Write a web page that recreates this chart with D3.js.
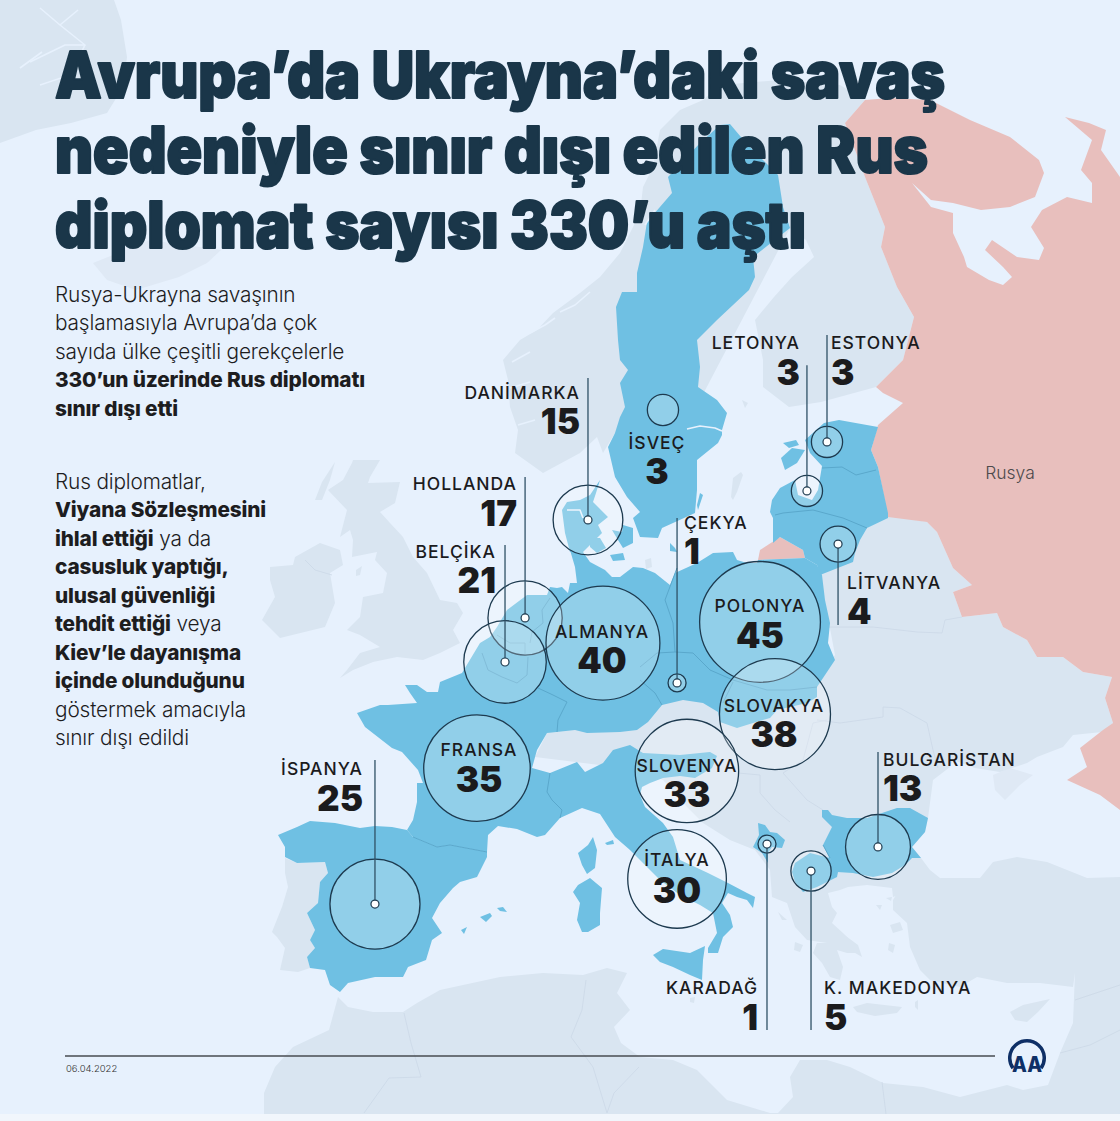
<!DOCTYPE html>
<html>
<head>
<meta charset="utf-8">
<title>Avrupa'da sınır dışı edilen Rus diplomatlar</title>
<style>
html, body { margin: 0; padding: 0; background: #f1f6fc; }
svg { display: block; }
.title { font-family: Inter, sans-serif; font-weight: 900; font-size: 65px; fill: #1a3649; stroke: #1a3649; stroke-width: 2.2px; stroke-linejoin: round; }
.body { font-family: Inter, sans-serif; font-size: 20.8px; font-weight: 300; fill: #1d1d1f; letter-spacing: -0.15px; }
.body .b { font-weight: 800; }
.name { font-family: Inter, sans-serif; font-size: 17.5px; font-weight: 500; letter-spacing: 1px; fill: #1b1b1d; }
.num { font-family: Inter, sans-serif; font-size: 35px; font-weight: 900; fill: #1b1b1d; }
</style>
</head>
<body>
<svg id="chart" width="1120" height="1121"></svg>
<script src="https://cdn.jsdelivr.net/npm/d3@7"></script>
<script>
// counts read from the infographic
var countries = ["DANİMARKA", "İSVEÇ", "LETONYA", "ESTONYA", "HOLLANDA", "BELÇİKA", "ÇEKYA", "LİTVANYA", "POLONYA", "ALMANYA", "SLOVAKYA", "SLOVENYA", "FRANSA", "İTALYA", "İSPANYA", "BULGARİSTAN", "KARADAĞ", "K. MAKEDONYA"];
var diplomats = [15, 3, 3, 3, 17, 21, 1, 4, 45, 40, 38, 33, 35, 30, 25, 13, 1, 5];
var anchorLon = [8.94, 13.35, 21.82, 23.0, 5.24, 4.06, 14.18, 23.65, 19.06, 9.82, 19.94, 14.76, 2.41, 14.18, -3.59, 26.0, 19.47, 22.06];
var anchorLat = [53.94, 58.14, 55.05, 56.92, 50.2, 48.52, 47.72, 53.02, 50.05, 49.24, 46.53, 44.36, 44.47, 40.24, 39.28, 41.46, 41.57, 40.54];
// far end of the leader line, null when the label sits inside the circle
var leaderLat = [59.36, null, 59.85, 61.0, 55.58, 52.98, 54.02, 49.93, null, null, null, null, null, null, 44.78, 45.08, 34.47, 34.47];

var titleLines = ["Avrupa’da Ukrayna’daki savaş", "nedeniyle sınır dışı edilen Rus", "diplomat sayısı 330’u aştı"];
var titleWidths = [890, 873, 751];
var introLines = [[["Rusya-Ukrayna savaşının", 0]], [["başlamasıyla Avrupa’da çok", 0]], [["sayıda ülke çeşitli gerekçelerle", 0]], [["330’un üzerinde Rus diplomatı", 1]], [["sınır dışı etti", 1]]];
var reasonLines = [[["Rus diplomatlar,", 0]], [["Viyana Sözleşmesini", 1]], [["ihlal ettiği", 1], [" ya da", 0]], [["casusluk yaptığı,", 1]], [["ulusal güvenliği", 1]], [["tehdit ettiği", 1], [" veya", 0]], [["Kiev’le dayanışma", 1]], [["içinde olunduğunu", 1]], [["göstermek amacıyla", 0]], [["sınır dışı edildi", 0]]];

// label layout: x, name baseline, number baseline, anchor
var labelLayout = {
  "DANİMARKA": [580, 399, 434, "end"], "İSVEÇ": [657, 449, 484, "middle"], "LETONYA": [800, 349, 385, "end"],
  "ESTONYA": [831, 349, 385, "start"], "HOLLANDA": [517, 490, 526, "end"], "BELÇİKA": [496, 558, 593, "end"],
  "ÇEKYA": [684, 529, 564, "start"], "LİTVANYA": [847, 589, 624, "start"], "POLONYA": [760, 612, 648, "middle"],
  "ALMANYA": [602, 638, 673, "middle"], "SLOVAKYA": [774, 712, 747, "middle"], "SLOVENYA": [687, 772, 807, "middle"],
  "FRANSA": [479, 756, 792, "middle"], "İTALYA": [677, 866, 903, "middle"], "İSPANYA": [363, 775, 811, "end"],
  "BULGARİSTAN": [883, 766, 801, "start"], "KARADAĞ": [758, 994, 1030, "end"], "K. MAKEDONYA": [824, 994, 1030, "start"]
};

// base map, already projected into picture units
var greyShapes = [
  // Iceland
  "0,0 114,0 121,20 127,57 123,87 107,113 71,123 36,130 0,143",
  // Norway, Finland and the ground under Sweden
  "543,473 515,453 518,430 510,407 508,380 503,360 520,340 537,330 553,313 580,293 600,277 620,253 640,213 643,187 653,167 660,130 680,110 703,100 720,85 780,80 840,85 865,100 845,123 865,177 885,227 881,247 897,287 914,317 903,360 876,387 821,402 789,407 763,387 763,360 755,320 774,297 792,277 814,257 806,240 790,228 700,400 640,480 615,433 603,453 597,437 580,453",
  // Ireland
  "270,567 293,565 295,557 320,543 340,550 343,565 330,573 335,603 325,627 280,638 262,620 275,597 270,580",
  // Great Britain
  "353,460 380,460 370,477 368,483 400,482 395,503 380,512 390,523 403,537 413,557 427,573 440,600 457,603 463,613 453,630 460,643 440,653 423,660 397,657 373,662 353,670 340,678 347,670 360,653 380,647 360,635 347,630 360,617 363,597 383,593 387,573 375,560 377,552 352,557 353,540 350,530 340,537 347,510 328,490 343,480 352,463",
  "315,500 322,482 335,462 330,480 322,500",
  "356,570 362,566 360,575 356,576",
  // central and eastern Europe, down to Greece
  "535,757 547,733 620,700 720,680 817,680 835,655 820,575 867,528 888,515 927,522 937,532 953,568 972,585 953,592 962,617 997,613 1003,627 1027,640 1037,657 1063,657 1083,672 1112,677 1105,698 1113,723 1102,732 1073,735 1063,747 1037,757 1027,763 1000,772 975,768 953,760 950,767 933,780 928,818 925,832 912,847 921,858 930,870 940,878 942,887 913,890 893,897 892,888 867,885 848,887 840,890 828,893 832,907 837,913 832,923 843,933 857,947 860,953 847,953 837,950 843,967 840,980 830,977 822,963 813,953 817,943 827,943 807,940 795,927 787,903 772,897 770,870 755,850 730,840 703,823 687,807 663,780 640,770",
  // Portugal
  "285,858 297,863 325,862 328,873 320,882 318,903 307,913 315,930 310,940 315,948 307,957 310,968 298,972 280,970 285,948 277,937 272,932 282,907 288,887 285,873",
  // Turkey and the Levant
  "893,900 905,880 942,878 980,878 993,862 1017,857 1047,862 1067,870 1087,878 1120,877 1120,1114 1048,1114 1048,1085 1060,1053 1073,1023 1075,973 1073,987 1040,983 1007,983 977,977 960,987 930,980 920,970 910,947 907,923 893,910",
  // North Africa
  "264,1114 264,1093 275,1067 293,1047 329,1030 338,997 348,1007 373,1012 403,1012 417,1003 440,990 500,977 543,973 583,975 607,968 627,973 617,993 630,1010 614,1027 621,1043 640,1057 673,1060 697,1070 710,1083 727,1100 770,1113 778,1113 793,1097 790,1077 800,1060 827,1060 850,1067 883,1083 923,1087 960,1097 1007,1085 1023,1090 1048,1085 1048,1114",
  // islands
  "1010,1012 1023,1005 1050,999 1038,1012 1027,1022 1015,1020",
  "853,1007 867,1003 902,1007 897,1013 875,1016 857,1012",
  "835,928 858,945 862,957 850,950 835,935",
  "890,925 900,922 903,930 893,933",
  "889,943 895,945 893,953 888,950",
  "876,905 882,905 880,910",
  "886,898 892,897 891,901",
  "778,912 787,920 782,920",
  "795,942 803,945 800,952 794,950",
  "915,1002 918,1000 918,1010 915,1007",
  "690,998 695,997 694,1003 690,1002",
  "731,497 733,478 741,472 743,475 737,492 733,500",
  "645,560 651,558 652,567 646,569",
  "742,400 748,403 745,408",
  "527,675 532,675 538,688 530,687"
];
var faintShapes = [
  "93,263 118,253 150,240 221,250 207,263 179,277 136,290 107,280",
  "993,775 1010,768 1033,775 1020,785 1005,800 995,790"
];
var blueShapes = [
  // France, Benelux, Germany, Poland, Czechia, Slovakia, Italy, Slovenia
  "527,595 547,595 550,587 557,588 562,587 568,593 570,583 577,583 575,567 570,550 583,552 590,562 605,570 612,577 620,577 633,567 643,568 655,573 670,585 675,573 697,563 713,553 733,552 737,560 747,563 757,563 758,560 805,558 817,565 822,575 825,600 830,623 828,643 835,660 817,687 817,697 807,703 777,710 770,718 753,723 737,728 720,722 718,712 703,703 683,700 662,705 648,722 637,730 620,732 587,733 575,730 547,733 537,750 532,768 550,773 577,762 585,772 603,763 613,750 630,745 643,753 680,755 710,752 717,756 712,768 695,778 680,776 663,778 650,783 642,787 640,795 645,807 663,823 673,837 680,860 708,873 728,883 747,893 755,897 753,908 747,900 737,897 728,893 722,903 730,915 733,927 723,937 718,953 708,953 708,948 717,933 713,913 700,905 680,895 660,880 630,850 615,837 600,814 582,808 560,818 545,835 537,837 517,829 498,826 488,835 487,852 450,845 437,847 413,837 407,830 413,820 417,802 417,783 423,783 418,770 402,752 392,748 365,727 357,713 380,705 388,705 417,703 410,693 405,685 417,685 427,692 438,692 440,682 462,673 480,643 490,637 497,627 507,610",
  // Spain
  "407,830 392,827 375,826 360,828 335,823 310,821 297,827 278,835 285,847 285,857 297,863 325,862 328,873 320,882 318,903 307,913 315,930 310,940 315,948 307,957 310,968 325,970 330,985 340,992 348,983 375,977 397,977 403,977 408,967 426,960 432,940 442,933 432,918 440,903 453,888 460,882 477,877 487,857 487,852 450,845 437,847 413,837",
  // Sweden
  "720,125 730,124 746,143 778,175 783,207 790,228 753,257 755,277 749,290 717,320 697,340 700,367 698,387 717,400 727,413 722,430 722,435 718,443 697,460 697,490 695,513 673,523 662,528 658,538 640,537 633,518 640,512 627,497 615,477 608,447 615,433 620,417 625,407 620,383 628,370 620,360 618,340 616,307 622,292 637,292 637,273 643,247 647,222 672,193 668,177 687,157 700,143",
  // Jutland
  "600,480 596,493 593,502 608,517 598,525 602,533 583,552 570,552 565,533 562,510 567,502 580,500 590,495",
  "590,538 600,538 606,548 597,553 590,547",
  "612,530 622,532 623,525 633,528 633,543 623,548 618,540",
  "610,555 623,553 625,560 613,561",
  // Estonia, Latvia, Lithuania
  "824,423 839,420 878,427 871,450 878,467 888,513 888,518 867,528 860,540 855,553 853,562 820,575 817,565 805,558 803,550 780,537 773,543 773,518 770,512 772,500 780,488 795,480 798,495 812,500 818,490 822,466 810,453 805,440",
  "781,458 792,448 805,450 797,463 785,470",
  "783,443 796,440 799,445 789,448",
  // Bulgaria
  "822,810 828,810 832,815 847,818 867,818 897,808 910,808 928,818 925,832 912,847 921,858 912,858 905,865 892,873 873,877 853,873 837,872 823,845 832,827 822,817",
  // North Macedonia
  "795,863 810,853 830,858 838,872 837,877 817,887 803,892 795,882 792,872",
  // Montenegro
  "758,823 765,825 770,832 777,833 785,840 782,848 772,847 768,853 768,863 762,853 753,847 759,835",
  // Sicily, Sardinia, Corsica, Elba, Balearics and smaller islands
  "653,955 663,949 690,953 705,946 703,960 702,980 690,975 673,967 660,962",
  "573,892 578,885 590,878 602,888 600,913 600,925 588,932 582,932 577,920 580,903",
  "593,837 597,850 595,868 587,874 582,865 578,853 588,845",
  "605,843 613,840 614,844 607,845",
  "480,917 490,913 492,916 486,922",
  "497,908 503,907 507,912 500,911",
  "461,930 467,927 464,934",
  "700,493 703,495 698,510 697,505",
  "670,543 675,548 677,552 670,551"
];
var russiaShapes = [
  "890,98 930,100 970,120 1010,137 1039,160 1044,173 1035,197 1010,207 981,210 953,203 931,200 912,183 931,207 953,213 953,233 964,257 967,267 989,280 1003,285 1012,277 1003,267 985,250 992,240 1017,257 1039,260 1044,248 1031,227 1042,210 1067,197 1092,203 1092,183 1081,170 1092,140 1065,117 1089,123 1106,130 1101,150 1120,177 1120,810 1100,795 1067,780 1087,767 1080,748 1103,730 1113,723 1105,698 1112,677 1083,672 1063,657 1037,657 1027,640 1003,627 997,613 962,617 953,592 972,585 953,568 937,532 927,522 888,517 878,467 871,450 878,425 903,403 883,393 876,387 903,360 914,317 897,287 881,247 885,227 865,177 845,123 865,100",
  "758,560 760,550 780,537 803,550 805,558"
];
// border lines drawn over the land
var greyBorders = [
  "305,560 315,570 332,575",
  "827,627 873,627 917,632 942,633 945,620 962,617",
  "817,720 840,723 883,717 883,707 900,708 927,723 933,750 938,768",
  "783,773 807,800 823,810",
  "738,773 760,775 760,793 775,810 790,822",
  "827,720 813,723 803,760 783,773",
  "404,1013 411,1043 421,1077 389,1078 364,1113",
  "586,980 582,1010 571,1037 593,1067 607,1113",
  "639,1067 614,1093 607,1113",
  "882,1082 886,1114",
  "1075,1000 1120,985", "1060,1053 1090,1045 1120,1030"
];
var blueBorders = [
  "413,837 437,847 450,845 487,852",
  "550,773 547,792 552,800 562,810 560,818",
  "550,598 542,610 543,623 532,632 530,643",
  "497,635 510,643 525,643 525,655",
  "482,653 488,670 502,677 517,683 527,675",
  "528,657 527,675",
  "538,688 553,695 567,702 558,720 557,732",
  "677,568 665,600 673,623 675,652",
  "640,667 657,653 675,652 693,653 710,670 733,680 767,690 790,690 817,687",
  "640,680 655,693 662,705",
  "733,682 723,703",
  "822,468 842,467 856,475 876,470",
  "775,515 783,513 813,510 843,518 867,528",
  "830,858 823,845"
];
// fjords and inlets, painted in the sea colour
var seaLines = [
  "40,8 60,25 85,45 65,45 30,62", "60,25 78,10", "85,45 70,75 40,85", "42,52 20,68",
  "687,429 700,426 715,428 722,431",
  "560,312 575,305 590,292", "530,333 545,325 555,318", "512,362 530,352", "510,388 530,382", "518,425 535,420",
  "567,510 580,510 583,518", "645,225 655,210"
];

var seaColor = "#e7f1fd", landColor = "#d9e5f1", blueColor = "#6fc0e3", russiaColor = "#e8bfbd", inkColor = "#1d3a4f";

var svg = d3.select("#chart");

// scales from degrees to the picture
var lonScale = d3.scaleLinear().domain([-10, 30]).range([266, 946]);
var latScale = d3.scaleLinear().domain([36, 70]).range([990, 99.2]);
var radius = d3.scaleSqrt().domain([0, 45]).range([0, 60.4]);

var path = d3.geoPath(d3.geoIdentity());

function ring(s) {
  return s.split(" ").map(function(p) { return p.split(",").map(Number); });
}
function polygons(list) {
  return list.map(function(s) {
    var r = ring(s);
    r.push(r[0]);
    return { type: "Polygon", coordinates: [r] };
  });
}
function lines(list) {
  return list.map(function(s) { return { type: "LineString", coordinates: ring(s) }; });
}

svg.append("rect").attr("width", 1120).attr("height", 1114).attr("fill", seaColor);

var map = svg.append("g");
function drawLayer(data, fill, stroke, width) {
  map.append("g").selectAll("path").data(data).join("path")
    .attr("d", path)
    .attr("fill", fill)
    .attr("stroke", stroke)
    .attr("stroke-width", width)
    .attr("stroke-linejoin", "round");
}
drawLayer(polygons(faintShapes), "#dfe9f5", "none", 0);
drawLayer(polygons(greyShapes), landColor, "none", 0);
drawLayer(lines(greyBorders), "none", "#cbd8e7", 0.8);
drawLayer(polygons(russiaShapes), russiaColor, "none", 0);
drawLayer(polygons(blueShapes), blueColor, "none", 0);
drawLayer(lines(blueBorders), "none", "#5aa8cc", 1);
drawLayer(lines(seaLines), "none", seaColor, 1.6);

svg.append("text").attr("x", 1010).attr("y", 479).attr("text-anchor", "middle")
  .attr("font-family", "Inter, sans-serif").attr("font-weight", 300).attr("font-size", 17.5).attr("fill", "#4d4a4c").text("Rusya");

// circles, leaders and dots
var rows = countries.map(function(name, i) {
  return { name: name, value: diplomats[i], lon: anchorLon[i], lat: anchorLat[i], end: leaderLat[i] };
});

svg.append("g").selectAll("circle").data(rows).join("circle")
  .attr("cx", function(d) { return lonScale(d.lon); })
  .attr("cy", function(d) { return latScale(d.lat); })
  .attr("r", function(d) { return radius(d.value); })
  .attr("fill", "#fff").attr("fill-opacity", 0.24)
  .attr("stroke", inkColor).attr("stroke-width", 1.3);

var led = rows.filter(function(d) { return d.end !== null; });
svg.append("g").selectAll("line").data(led).join("line")
  .attr("x1", function(d) { return lonScale(d.lon); })
  .attr("x2", function(d) { return lonScale(d.lon); })
  .attr("y1", function(d) { return latScale(d.lat); })
  .attr("y2", function(d) { return latScale(d.end); })
  .attr("stroke", "#2f5166").attr("stroke-width", 1.3);
svg.append("g").selectAll("circle").data(led).join("circle")
  .attr("cx", function(d) { return lonScale(d.lon); })
  .attr("cy", function(d) { return latScale(d.lat); })
  .attr("r", 4)
  .attr("fill", "#fff").attr("stroke", inkColor).attr("stroke-width", 1.2);

// country names and counts
var labels = svg.append("g").selectAll("g").data(rows).join("g")
  .attr("text-anchor", function(d) { return labelLayout[d.name][3]; });
labels.append("text").attr("class", "name")
  .attr("x", function(d) { return labelLayout[d.name][0]; })
  .attr("y", function(d) { return labelLayout[d.name][1]; })
  .text(function(d) { return d.name; });
labels.append("text").attr("class", "num")
  .attr("x", function(d) { return labelLayout[d.name][0]; })
  .attr("y", function(d) { return labelLayout[d.name][2]; })
  .text(function(d) { return d.value; });

// title
svg.append("g").selectAll("text").data(titleLines).join("text")
  .attr("class", "title")
  .attr("x", 55)
  .attr("y", function(d, i) { return 98 + i * 75; })
  .attr("textLength", function(d, i) { return titleWidths[i]; })
  .attr("lengthAdjust", "spacingAndGlyphs")
  .text(function(d) { return d; });

// body text with bold runs
function bodyBlock(data, top) {
  var t = svg.append("g").selectAll("text").data(data).join("text")
    .attr("class", "body")
    .attr("x", 55)
    .attr("y", function(d, i) { return top + i * 28.45; });
  t.selectAll("tspan").data(function(d) { return d; }).join("tspan")
    .attr("class", function(d) { return d[1] ? "b" : null; })
    .text(function(d) { return d[0]; });
}
bodyBlock(introLines, 302);
bodyBlock(reasonLines, 489);

// footer
svg.append("line").attr("x1", 65).attr("x2", 995).attr("y1", 1056).attr("y2", 1056)
  .attr("stroke", "#474b50").attr("stroke-width", 1.3);
svg.append("text").attr("x", 66).attr("y", 1072)
  .attr("font-family", "Inter, sans-serif").attr("font-weight", 300).attr("font-size", 9.5).attr("fill", "#333").text("06.04.2022");

var logo = svg.append("g").attr("transform", "translate(1027,1058)").attr("fill", "#0e2f66");
logo.append("path").attr("d", d3.arc()({ innerRadius: 15.5, outerRadius: 19, startAngle: -2.2, endAngle: 2.2 }));
logo.append("text").attr("x", 0).attr("y", 14).attr("text-anchor", "middle")
  .attr("font-family", "Inter, sans-serif").attr("font-weight", 800).attr("font-size", 21)
  .attr("textLength", 30).attr("lengthAdjust", "spacingAndGlyphs").text("AA");
</script>
</body>
</html>
